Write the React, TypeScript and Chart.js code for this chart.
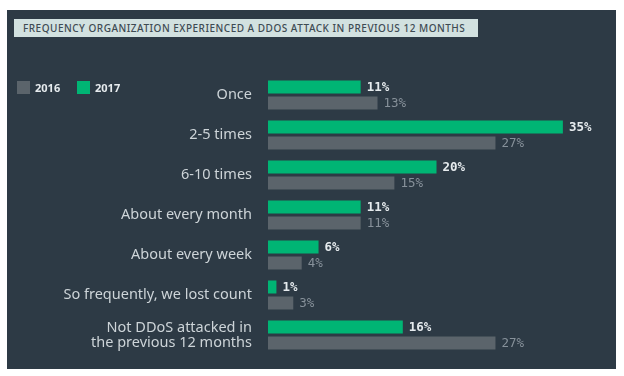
import React, { useEffect, useRef } from "react";
import { Chart, registerables } from "chart.js";

Chart.register(...registerables);

const categories: (string | string[])[] = [
  "Once",
  "2-5 times",
  "6-10 times",
  "About every month",
  "About every week",
  "So frequently, we lost count",
  ["Not DDoS attacked in", "the previous 12 months"],
];
const values2017 = [11, 35, 20, 11, 6, 1, 16];
const values2016 = [13, 27, 15, 11, 4, 3, 27];
const title = "FREQUENCY ORGANIZATION EXPERIENCED A DDOS ATTACK IN PREVIOUS 12 MONTHS";
const legendLabels = ["2016", "2017"];

const GREEN = "#00b574";
const GRAY = "#5b646b";
const BG = "#2d3a45";

const valueLabels = {
  id: "valueLabels",
  afterDatasetsDraw(chart: any) {
    const ctx = chart.ctx;
    ctx.save();
    ctx.textBaseline = "middle";
    ctx.textAlign = "left";
    chart.data.datasets.forEach((ds: any, di: number) => {
      const meta = chart.getDatasetMeta(di);
      meta.data.forEach((bar: any, i: number) => {
        ctx.font = di === 0 ? "bold 12.5px 'DejaVu Sans Mono'" : "12.5px 'DejaVu Sans Mono'";
        ctx.fillStyle = di === 0 ? "#e6ebee" : "#87919a";
        ctx.fillText(ds.data[i] + "%", bar.x + 6, bar.y + 1);
      });
    });
    ctx.restore();
  },
};

export default function App() {
  const ref = useRef<HTMLCanvasElement>(null);
  useEffect(() => {
    const chart = new Chart(ref.current!, {
      type: "bar",
      data: {
        labels: categories,
        datasets: [
          { label: "2017", data: values2017, backgroundColor: GREEN, categoryPercentage: 0.8, barPercentage: 0.8125 },
          { label: "2016", data: values2016, backgroundColor: GRAY, categoryPercentage: 0.8, barPercentage: 0.8125 },
        ],
      },
      options: {
        indexAxis: "y",
        animation: false,
        responsive: false,
        maintainAspectRatio: false,
        layout: { padding: { top: 65, bottom: 14, right: 11, left: 0 } },
        plugins: { legend: { display: false }, tooltip: { enabled: false } },
        scales: {
          x: { display: false, min: 0, max: 40 },
          y: {
            grid: { display: false, drawTicks: false },
            border: { display: false },
            ticks: {
              color: "#cdd4d8",
              font: { family: "'Noto Sans'", size: 14.5, lineHeight: 1.05 },
              padding: 16,
            },
            afterFit(scale: any) {
              scale.width = 261;
              scale.paddingTop = 0;
              scale.paddingBottom = 0;
            },
          },
        },
      },
      plugins: [valueLabels],
    });
    return () => chart.destroy();
  }, []);

  return (
    <div style={{ position: "fixed", left: 0, top: 0, width: 624, height: 376, background: "#fff" }}>
      <div style={{ position: "absolute", left: 7, top: 10, width: 609, height: 359, background: BG }}>
        <canvas ref={ref} width={609} height={359} style={{ position: "absolute", left: 0, top: 0 }} />
      </div>
      <div
        style={{
          position: "absolute",
          left: 14,
          top: 19,
          width: 464,
          height: 18,
          background: "#d2e1e0",
          color: "#3e4b53",
          fontFamily: "'Noto Sans'",
          fontSize: 10,
          fontWeight: 500,
          letterSpacing: 0.5,
          lineHeight: "18px",
          paddingLeft: 9,
          boxSizing: "border-box",
          whiteSpace: "nowrap",
        }}
      >
        {title}
      </div>
      {legendLabels.map((l, i) => (
        <div key={l} style={{ position: "absolute", left: 17 + i * 60, top: 81, display: "flex", alignItems: "center" }}>
          <div style={{ width: 13, height: 13, background: i === 0 ? GRAY : GREEN }} />
          <span
            style={{
              marginLeft: 5,
              color: "#e6ebee",
              fontFamily: "'Noto Sans'",
              fontWeight: 700,
              fontSize: 11,
              lineHeight: "13px",
            }}
          >
            {l}
          </span>
        </div>
      ))}
    </div>
  );
}
